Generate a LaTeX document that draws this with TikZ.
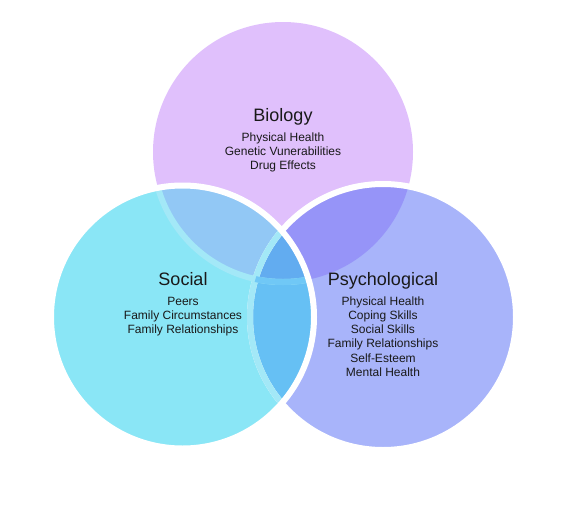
\documentclass[tikz,border=0pt]{standalone}
\usepackage{fontspec}
\setmainfont{Liberation Sans}
\definecolor{bioC}{RGB}{224,192,252}
\definecolor{socC}{RGB}{138,230,246}
\definecolor{psyC}{RGB}{168,180,250}
\definecolor{bpC}{RGB}{150,148,248}
\definecolor{bsC}{RGB}{146,200,245}
\definecolor{spC}{RGB}{102,192,244}
\definecolor{allC}{RGB}{98,172,240}
\definecolor{bandC}{RGB}{163,232,247}
\definecolor{bandTwoC}{RGB}{112,200,246}
\definecolor{txtC}{RGB}{25,25,25}
\begin{document}
\begin{tikzpicture}[x=1pt,y=-1pt,
  title/.style={font=\fontsize{18}{20}\selectfont, text=txtC, inner sep=0pt, anchor=base},
  item/.style={font=\fontsize{12}{14}\selectfont, text=txtC, inner sep=0pt, anchor=base},
  edge/.style={line width=6pt}]
\useasboundingbox (0,0) rectangle (581,525);
\def\bio{(283,152) circle[radius=130]}
\def\soc{(182.5,317) circle[radius=131.5]}
\def\psy{(383,317) circle[radius=133]}
% region fills
\fill[bioC] \bio;
\fill[psyC] \psy;
\fill[socC] \soc;
\begin{scope}
  \clip \psy;
  \fill[spC] \soc;
\end{scope}
\begin{scope}
  \clip \bio;
  \fill[bpC] \psy;
  \fill[bsC] \soc;
  \clip \psy;
  \fill[allC] \soc;
\end{scope}
% borders
\draw[white, edge] \psy;
\begin{scope}
  \clip \soc;
  \draw[bandC, edge] \bio;
  \draw[bandC, edge] \psy;
  \clip \psy;
  \draw[bandTwoC, edge] \bio;
\end{scope}
\draw[white, edge] \soc;
% texts
\node[title] (bioT) at (283,121.5) {Biology};
\node[item] (bio1) at (283,141.7) {Physical Health};
\node[item] (bio2) at (283,155.7) {Genetic Vunerabilities};
\node[item] (bio3) at (283,169.7) {Drug Effects};
\node[title] (socT) at (183,285) {Social};
\node[item] (soc1) at (183,305) {Peers};
\node[item] (soc2) at (183,319.2) {Family Circumstances};
\node[item] (soc3) at (183,333.4) {Family Relationships};
\node[title] (psyT) at (383,285) {Psychological};
\node[item] (psy1) at (383,305) {Physical Health};
\node[item] (psy2) at (383,319.3) {Coping Skills};
\node[item] (psy3) at (383,333.6) {Social Skills};
\node[item] (psy4) at (383,347.9) {Family Relationships};
\node[item] (psy5) at (383,362.2) {Self-Esteem};
\node[item] (psy6) at (383,376.5) {Mental Health};
\end{tikzpicture}
\end{document}
